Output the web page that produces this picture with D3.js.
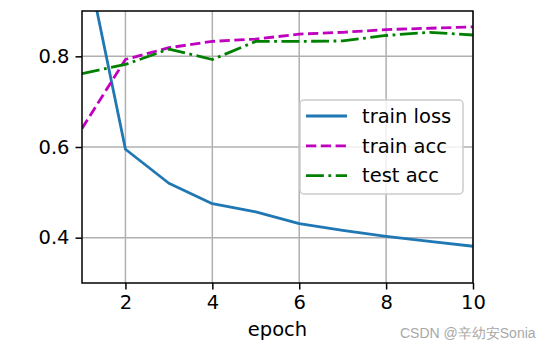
<!DOCTYPE html>
<html>
<head>
<meta charset="utf-8">
<script src="https://cdn.jsdelivr.net/npm/d3@7/dist/d3.min.js"></script>
<style>
  html, body { margin: 0; padding: 0; background: #fff; }
  svg { display: block; }
  text { font-family: "DejaVu Sans", sans-serif; }
</style>
</head>
<body>
<svg id="chart" width="551" height="349"></svg>
<script>
// Training curves per epoch
const epochs = [1, 2, 3, 4, 5, 6, 7, 8, 9, 10];
const trainLoss = [1.06, 0.595, 0.520, 0.475, 0.457, 0.431, 0.416, 0.403, 0.392, 0.381];
const trainAcc = [0.641, 0.793, 0.819, 0.833, 0.838, 0.849, 0.853, 0.859, 0.862, 0.865];
const testAcc = [0.762, 0.782, 0.816, 0.793, 0.833, 0.833, 0.834, 0.846, 0.853, 0.847];
const xTicks = [2, 4, 6, 8, 10];
const yTicks = [0.4, 0.6, 0.8];
const seriesNames = ["train loss", "train acc", "test acc"];

const svg = d3.select("#chart");
const m = { left: 82, right: 473, top: 11, bottom: 283 };
const fontSize = 19.5;

const x = d3.scaleLinear().domain([1, 10]).range([m.left, m.right]);
const y = d3.scaleLinear().domain([0.3, 0.9]).range([m.bottom, m.top]);

// grid
const grid = svg.append("g");
grid.selectAll("line.gx").data(xTicks).join("line")
  .attr("x1", d => x(d)).attr("x2", d => x(d))
  .attr("y1", m.top).attr("y2", m.bottom)
  .attr("stroke", "#b0b0b0").attr("stroke-width", 1.5);
grid.selectAll("line.gy").data(yTicks).join("line")
  .attr("x1", m.left).attr("x2", m.right)
  .attr("y1", d => y(d)).attr("y2", d => y(d))
  .attr("stroke", "#b0b0b0").attr("stroke-width", 1.5);

// clip for the plotting area
svg.append("defs").append("clipPath").attr("id", "plot-clip")
  .append("rect").attr("x", m.left).attr("y", m.top)
  .attr("width", m.right - m.left).attr("height", m.bottom - m.top);

const series = [
  { name: seriesNames[0], values: trainLoss, color: "#1f77b4", dash: null },
  { name: seriesNames[1], values: trainAcc, color: "#bf00bf", dash: "10.3,4.5" },
  { name: seriesNames[2], values: testAcc, color: "#008000", dash: "17.9,4.5,2.8,4.5" }
];

const line = d3.line().x(d => x(d[0])).y(d => y(d[1]));
const plot = svg.append("g").attr("clip-path", "url(#plot-clip)");
series.forEach(s => {
  plot.append("path")
    .datum(epochs.map((e, i) => [e, s.values[i]]))
    .attr("d", line)
    .attr("fill", "none")
    .attr("stroke", s.color)
    .attr("stroke-width", 2.8)
    .attr("stroke-dasharray", s.dash)
    .attr("stroke-linejoin", "round");
});

// axes
const xAxis = svg.append("g").attr("transform", `translate(0,${m.bottom})`)
  .call(d3.axisBottom(x).tickValues(xTicks).tickSize(6.5).tickPadding(6).tickFormat(d3.format("d")));
const yAxis = svg.append("g").attr("transform", `translate(${m.left},0)`)
  .call(d3.axisLeft(y).tickValues(yTicks).tickSize(6.5).tickPadding(6).tickFormat(d3.format(".1f")));
[xAxis, yAxis].forEach(a => {
  a.select(".domain").remove();
  a.selectAll(".tick line").attr("stroke", "#000").attr("stroke-width", 1.5);
  a.selectAll(".tick text").attr("fill", "#000")
    .style("font-family", "DejaVu Sans").style("font-size", fontSize + "px");
});

// spines
svg.append("rect")
  .attr("x", m.left).attr("y", m.top)
  .attr("width", m.right - m.left).attr("height", m.bottom - m.top)
  .attr("fill", "none").attr("stroke", "#000").attr("stroke-width", 1.5);

// x label
svg.append("text")
  .attr("x", (m.left + m.right) / 2).attr("y", 336)
  .attr("text-anchor", "middle")
  .style("font-size", fontSize + "px")
  .text("epoch");

// legend
const lg = svg.append("g");
lg.append("rect")
  .attr("x", 300).attr("y", 100).attr("width", 163).attr("height", 94)
  .attr("rx", 4).attr("ry", 4)
  .attr("fill", "rgba(255,255,255,0.8)")
  .attr("stroke", "#cccccc").attr("stroke-width", 1.5);
series.forEach((s, i) => {
  const cy = 116 + i * 29.8;
  lg.append("line")
    .attr("x1", 306).attr("x2", 347).attr("y1", cy).attr("y2", cy)
    .attr("stroke", s.color).attr("stroke-width", 2.8)
    .attr("stroke-dasharray", s.dash);
  lg.append("text")
    .attr("x", 362).attr("y", cy)
    .attr("dy", "0.35em")
    .style("font-size", fontSize + "px")
    .text(s.name);
});

// watermark
svg.append("text")
  .attr("x", 400).attr("y", 338)
  .style("font-family", "Liberation Sans, Arial, sans-serif")
  .style("font-size", "14px")
  .attr("fill", "#a8a8a8")
  .text("CSDN @辛幼安Sonia");
</script>
</body>
</html>
